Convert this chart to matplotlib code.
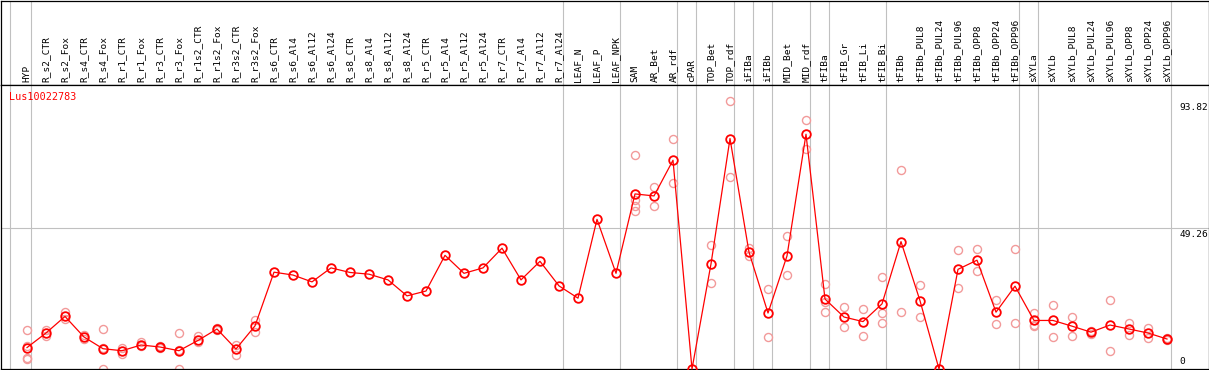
import matplotlib.pyplot as plt
from matplotlib.transforms import blended_transform_factory

#Sample names along the top of the chart.
labels = ["HYP", "R_s2_CTR", "R_s2_Fox", "R_s4_CTR", "R_s4_Fox", "R_r1_CTR", "R_r1_Fox",
          "R_r3_CTR", "R_r3_Fox", "R_r1s2_CTR", "R_r1s2_Fox", "R_r3s2_CTR", "R_r3s2_Fox",
          "R_s6_CTR", "R_s6_Al4", "R_s6_Al12", "R_s6_Al24", "R_s8_CTR", "R_s8_Al4",
          "R_s8_Al12", "R_s8_Al24", "R_r5_CTR", "R_r5_Al4", "R_r5_Al12", "R_r5_Al24",
          "R_r7_CTR", "R_r7_Al4", "R_r7_Al12", "R_r7_Al24", "LEAF_N", "LEAF_P", "LEAF_NPK",
          "SAM", "AR_Bet", "AR_rdf", "cPAR", "TOP_Bet", "TOP_rdf", "iFIBa", "iFIBb",
          "MID_Bet", "MID_rdf", "tFIBa", "tFIB_Gr", "tFIB_Li", "tFIB_Bi", "tFIBb",
          "tFIBb_PUL8", "tFIBb_PUL24", "tFIBb_PUL96", "tFIBb_OPP8", "tFIBb_OPP24", "tFIBb_OPP96",
          "sXYLa", "sXYLb", "sXYLb_PUL8", "sXYLb_PUL24", "sXYLb_PUL96", "sXYLb_OPP8",
          "sXYLb_OPP24", "sXYLb_OPP96"]

#Mean expression per sample.
means = [7.5, 12.6, 18.4, 11.2, 7.1, 6.4, 8.4, 7.7, 6.4, 10.0, 14.0, 7.0, 15.1,
         33.9, 32.9, 30.5, 35.4, 33.8, 33.2, 31.2, 25.6, 27.3, 39.8, 33.5, 35.4,
         42.3, 31.2, 37.7, 29.1, 24.8, 52.4, 33.5, 61.3, 60.6, 73.1, 0.0, 36.8,
         80.7, 40.9, 19.6, 39.6, 82.2, 24.5, 18.2, 16.6, 22.8, 44.6, 23.9, 0.0,
         34.9, 38.1, 19.9, 29.0, 17.0, 17.0, 15.0, 12.9, 15.4, 14.0, 12.6, 10.5]

#Individual replicates per sample.
replicates = [[13.7, 8.2, 3.9, 3.4], [13.7, 11.4], [19.8, 17.5], [10.5, 11.8], [14.1, 0.0, 7.4],
              [7.5, 5.2], [9.3, 8.0], [7.9, 7.5], [12.6, 0.1, 6.6], [11.4, 9.3], [14.3, 13.7],
              [8.5, 5.0], [17.2, 12.8], [], [], [], [], [], [], [], [], [], [], [], [], [], [],
              [], [], [], [], [], [74.9, 59.2, 57.2, 55.4], [63.9, 57.1], [80.7, 65.3], [],
              [43.4, 30.2], [93.8, 67.1], [42.5, 39.6], [28.0, 11.3], [46.6, 32.9], [87.1, 77.2],
              [29.8, 23.3, 19.9], [21.7, 14.7], [21.1, 11.5], [32.1, 19.6, 16.1], [69.6, 19.9],
              [29.5, 18.3], [], [41.6, 28.3], [42.0, 34.2], [24.2, 15.7], [42.0, 16.1],
              [19.6, 15.5, 14.9], [22.4, 11.3], [18.2, 11.6], [13.4, 12.3], [24.1, 6.4],
              [16.2, 11.9], [14.2, 10.8], [11.0, 10.0]]

#Last sample of each tissue group (a grey separator follows it).
group_ends = [0, 28, 31, 34, 35, 37, 38, 39, 41, 42, 45, 52, 53, 60]
gene = "Lus10022783"
axis_labels = ["93.82", "49.26", "0"]
axis_values = [93.82, 49.26, 0]

W, H = 1209, 370
fig = plt.figure(figsize=(W / 100, H / 100), dpi=100)
mono = "DejaVu Sans Mono"
grey = "#c0c0c0"

#Header axes holds the rotated sample names, plot axes holds the profile.
head = fig.add_axes([1 / W, 1 - 85 / H, 1207.5 / W, 84.5 / H])
ax = fig.add_axes([1 / W, 1 / H, 1207.5 / W, 284 / H])

xlim = ((1 - 27) / 19, (1208.5 - 27) / 19)
for a in (head, ax):
    a.set_xlim(*xlim)
    a.set_xticks([])
    a.set_yticks([])
    for s in a.spines.values():
        s.set_linewidth(0.9)
        s.set_color("black")
    #Group separators.
    a.axvline(-0.9, color=grey, lw=0.8, zorder=0)
    for g in group_ends:
        a.axvline(g + 0.2, color=grey, lw=0.8, zorder=0)

head.set_ylim(0, 1)
for i, name in enumerate(labels):
    head.text(i, 0.03, name, rotation=90, ha="center", va="bottom",
              fontsize=6.8, family=mono)

ax.set_ylim(0, 284 / 2.856)
ax.axhline(49.26, color=grey, lw=0.8, zorder=0)

#Replicate points behind the mean profile.
for i, reps in enumerate(replicates):
    ax.plot([i] * len(reps), reps, "o", ms=5.8, mfc="none", mec="#f29a9a", mew=1.0,
            clip_on=False, zorder=2)
ax.plot(range(len(means)), means, "-", color="red", lw=0.9, zorder=3, clip_on=False)
ax.plot(range(len(means)), means, "o", ms=6.2, mfc="none", mec="red", mew=1.3,
        zorder=4, clip_on=False)

trans = blended_transform_factory(ax.transData, ax.transAxes)
ax.text(-0.93, 0.957, gene, color="red", fontsize=7.3, family=mono, va="center",
        ha="left", transform=trans)

#Scale labels on the right.
offsets = [(-1.5, "top"), (-1.0, "top"), (2.0, "bottom")]
for text, v, (dy, va) in zip(axis_labels, axis_values, offsets):
    ax.annotate(text, xy=(60.65, v), xytext=(0, dy), textcoords="offset points",
                ha="left", va=va, fontsize=6.8, family=mono)

fig.savefig("out.png", dpi=100)
